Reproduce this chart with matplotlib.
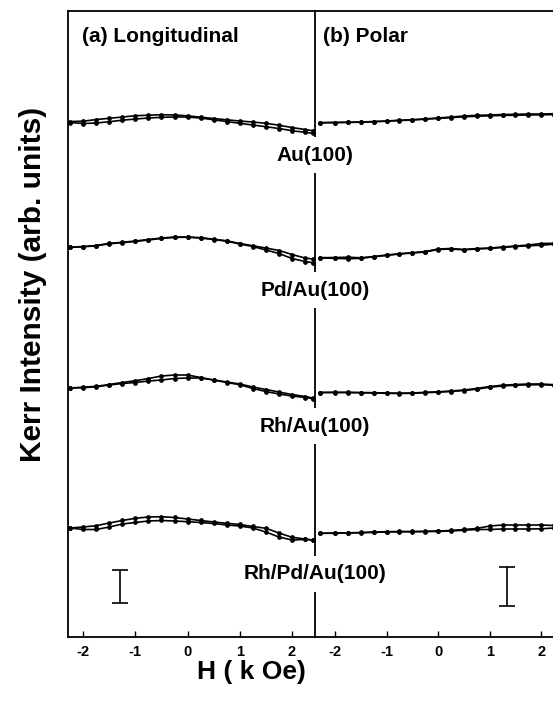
import matplotlib
matplotlib.use("Agg")
import matplotlib.pyplot as plt

plt.rcParams["font.family"] = ["Liberation Sans", "DejaVu Sans"]
plt.rcParams["font.weight"] = "bold"
plt.rcParams["axes.unicode_minus"] = False

# Campo H (kOe) em cada painel
H_long = [-2.25, -2.0, -1.75, -1.5, -1.25, -1.0, -0.75, -0.5, -0.25, 0.0,
          0.25, 0.5, 0.75, 1.0, 1.25, 1.5, 1.75, 2.0, 2.25, 2.4]
H_polar = [-2.3, -2.0, -1.75, -1.5, -1.25, -1.0, -0.75, -0.5, -0.25, 0.0,
           0.25, 0.5, 0.75, 1.0, 1.25, 1.5, 1.75, 2.0, 2.25]

amostras = ["Au(100)", "Pd/Au(100)", "Rh/Au(100)", "Rh/Pd/Au(100)"]

# deslocamento vertical de cada curva (unid. arb.)
offset_long = [515, 392, 249, 109]
offset_polar = [515, 379, 245, 104]

# (a) Longitudinal: ramo de ida / ramo de volta
long_ida = [
    [0.5, 0.8, 2.5, 3.7, 5.0, 6.3, 6.8, 7.3, 7.0, 6.2, 4.8, 3.5, 2.2, 1.0, 0.0, -1.3, -3.2, -5.5, -7.5, -8.7],
    [-2.3, -1.5, -0.5, 1.7, 2.7, 4.0, 5.5, 7.0, 8.0, 8.0, 7.3, 5.8, 4.2, 1.5, -0.8, -3.0, -5.5, -9.5, -13.0, -14.0],
    [0.0, 0.8, 1.7, 3.5, 5.5, 7.3, 9.5, 12.0, 13.0, 13.0, 10.5, 8.0, 6.0, 4.0, 1.0, -1.5, -4.0, -6.5, -8.5, -10.0],
    [0.0, 1.0, 2.3, 5.0, 7.5, 9.7, 11.0, 11.3, 10.5, 9.0, 7.5, 6.0, 4.7, 3.5, 1.5, -0.3, -5.0, -9.3, -11.0, -12.0],
]
long_volta = [
    [-0.5, -1.5, -1.0, 0.3, 1.8, 3.0, 4.0, 4.7, 5.0, 5.0, 4.0, 2.2, 0.5, -1.3, -3.0, -4.7, -6.5, -8.7, -10.3, -11.3],
    [-2.3, -1.8, -0.8, 1.2, 2.3, 3.6, 5.0, 6.6, 7.6, 7.8, 7.0, 5.5, 3.8, 1.0, -1.5, -5.0, -8.5, -13.5, -16.5, -17.7],
    [0.0, 0.3, 1.2, 3.0, 4.5, 5.5, 7.0, 8.0, 9.5, 10.0, 10.0, 8.0, 5.5, 3.3, -0.5, -3.5, -6.0, -8.0, -9.5, -10.5],
    [0.0, -1.5, -1.5, 1.0, 4.0, 5.5, 7.0, 7.5, 7.0, 6.3, 5.5, 4.5, 3.0, 2.0, 0.0, -4.0, -9.0, -12.0, -11.5, -12.0],
]

# (b) Polar
polar_ida = [
    [-0.7, -0.5, -0.2, 0.0, 0.5, 1.0, 1.8, 2.3, 3.2, 4.0, 5.0, 6.0, 6.7, 7.0, 7.5, 7.7, 8.0, 8.0, 8.3],
    [0.3, 0.5, 0.8, 0.2, 1.5, 3.0, 4.3, 5.3, 6.5, 9.0, 9.5, 8.5, 9.5, 10.0, 11.0, 12.0, 13.0, 14.5, 14.7],
    [-0.5, -0.3, -0.3, -0.5, -0.7, -1.0, -1.2, -1.0, -0.3, 0.2, 1.0, 2.0, 3.5, 5.5, 6.8, 7.5, 8.0, 8.0, 7.3],
    [-0.3, 0.0, 0.2, 0.5, 1.0, 1.3, 1.5, 1.5, 1.7, 2.0, 2.5, 3.5, 4.5, 7.0, 8.0, 8.0, 8.0, 8.0, 7.5],
]
polar_volta = [
    [-0.7, -0.5, -0.4, -0.2, 0.3, 0.8, 1.5, 2.0, 2.8, 3.6, 4.3, 5.2, 5.8, 6.2, 6.6, 6.8, 7.0, 7.2, 7.4],
    [0.0, -0.3, -0.8, -0.3, 1.2, 2.6, 4.0, 5.0, 6.0, 8.5, 9.0, 8.2, 9.0, 9.6, 10.5, 11.5, 12.2, 12.8, 13.8],
    [-0.5, -0.5, -0.6, -0.8, -1.0, -1.3, -1.5, -1.3, -0.7, -0.2, 0.5, 1.5, 2.8, 4.8, 6.0, 6.8, 7.2, 7.3, 6.8],
    [-0.3, -0.3, 0.0, 0.2, 0.6, 1.0, 1.2, 1.2, 1.4, 1.6, 2.0, 2.8, 3.5, 3.5, 4.0, 4.0, 4.0, 4.2, 5.0],
]

# barras de escala
escala_H = [-1.29, 1.34]
escala_centro = [50.5, 50.5]
escala_meia = [16.5, 19.5]

ticks = [-2, -1, 0, 1, 2]

fig = plt.figure(figsize=(5.53, 7.02), dpi=100)
ax_l = fig.add_axes([0.123, 0.0926, 0.4466, 0.8917])
ax_r = fig.add_axes([0.5696, 0.0926, 0.4304, 0.8917])

for ax in (ax_l, ax_r):
    ax.set_ylim(0, 626)
    ax.set_yticks([])
    ax.set_xticks(ticks)
    ax.set_xticklabels([str(t) for t in ticks], fontsize=10.5, fontweight="bold")
    ax.tick_params(axis="x", direction="in", length=4, width=1, pad=6)
    for s in ax.spines.values():
        s.set_linewidth(1.3)
ax_l.set_xlim(-2.29, 2.44)
ax_r.set_xlim(-2.39, 2.23)
ax_r.spines["left"].set_visible(False)
ax_r.spines["right"].set_visible(False)
ax_r.set_facecolor("none")

estilo = dict(color="black", lw=1.2, marker="o", ms=2.4)
for i in range(4):
    ax_l.plot(H_long, [offset_long[i] + v for v in long_ida[i]], **estilo)
    ax_l.plot(H_long, [offset_long[i] + v for v in long_volta[i]], **estilo)
    ax_r.plot(H_polar, [offset_polar[i] + v for v in polar_ida[i]], **estilo)
    ax_r.plot(H_polar, [offset_polar[i] + v for v in polar_volta[i]], **estilo)

for ax, h, c, m in zip((ax_l, ax_r), escala_H, escala_centro, escala_meia):
    ax.errorbar([h], [c], yerr=[m], fmt="none", ecolor="black", elinewidth=1.2,
                capsize=6, capthick=1.2)

# rótulos das amostras sobre a divisória
label_y = [482, 347, 211, 63]
for nome, y in zip(amostras, label_y):
    fig.text(2.44, y, nome, transform=ax_l.transData, ha="center", va="center",
             fontsize=15, fontweight="bold", zorder=10,
             bbox=dict(facecolor="white", edgecolor="none", pad=6))

fig.text(82 / 553, 1 - 36 / 702, "(a) Longitudinal", ha="left", va="center",
         fontsize=15, fontweight="bold")
fig.text(323 / 553, 1 - 36 / 702, "(b) Polar", ha="left", va="center",
         fontsize=15, fontweight="bold")

fig.text(33 / 553, 1 - 284 / 702, "Kerr Intensity (arb. units)", rotation=90,
         ha="center", va="center", fontsize=21.5, fontweight="bold")
fig.text(251 / 553, 1 - 672 / 702, "H ( k Oe)", ha="center", va="center",
         fontsize=19, fontweight="bold")

fig.savefig("out.png", dpi=100)
